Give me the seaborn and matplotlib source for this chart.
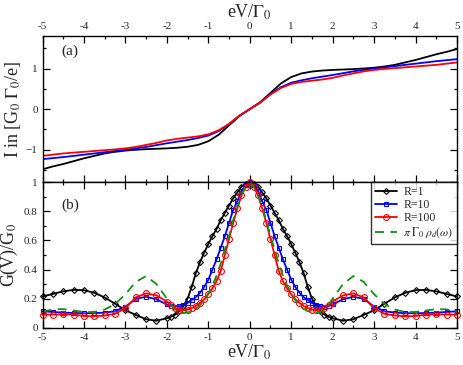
import numpy as np
import pandas as pd
import matplotlib
matplotlib.use("Agg")
import matplotlib.pyplot as plt
from matplotlib.ticker import MultipleLocator
import seaborn as sns

# ---------------- data ----------------
V_top = [-5.0, -4.75, -4.5, -4.25, -4.0, -3.75, -3.5, -3.25, -3.0, -2.75, -2.5, -2.25,
         -2.0, -1.75, -1.5, -1.25, -1.0, -0.75, -0.5, -0.25, 0.0,
         0.25, 0.5, 0.75, 1.0, 1.25, 1.5, 1.75, 2.0, 2.25, 2.5, 2.75, 3.0,
         3.25, 3.5, 3.75, 4.0, 4.25, 4.5, 4.75, 5.0]
I_R1 = [-1.48, -1.41, -1.35, -1.28, -1.21, -1.15, -1.09, -1.05, -1.02, -1.0, -0.985, -0.975,
        -0.965, -0.95, -0.925, -0.88, -0.79, -0.63, -0.40, -0.17, 0.0,
        0.17, 0.40, 0.63, 0.79, 0.88, 0.925, 0.95, 0.965, 0.975, 0.985, 1.0, 1.02,
        1.05, 1.09, 1.15, 1.21, 1.28, 1.35, 1.41, 1.48]
I_R10 = [-1.23, -1.205, -1.18, -1.15, -1.12, -1.09, -1.06, -1.03, -1.0, -0.965, -0.93, -0.885,
         -0.84, -0.80, -0.76, -0.71, -0.65, -0.54, -0.37, -0.16, 0.0,
         0.16, 0.37, 0.54, 0.65, 0.71, 0.76, 0.80, 0.84, 0.885, 0.93, 0.965, 1.0,
         1.03, 1.06, 1.09, 1.12, 1.15, 1.18, 1.205, 1.23]
I_R100 = [-1.15, -1.12, -1.09, -1.07, -1.05, -1.03, -1.01, -0.99, -0.965, -0.93, -0.88, -0.83,
          -0.77, -0.73, -0.70, -0.67, -0.62, -0.52, -0.36, -0.16, 0.0,
          0.16, 0.36, 0.52, 0.62, 0.67, 0.70, 0.73, 0.77, 0.83, 0.88, 0.93, 0.965,
          0.99, 1.01, 1.03, 1.05, 1.07, 1.09, 1.12, 1.15]

V_bot = [-5.0, -4.75, -4.5, -4.25, -4.0, -3.75, -3.5, -3.25, -3.0, -2.75, -2.5, -2.25,
         -2.0, -1.9, -1.8, -1.7, -1.6, -1.5, -1.4, -1.3, -1.2, -1.1, -1.0, -0.9, -0.8,
         -0.7, -0.6, -0.5, -0.4, -0.3, -0.2, -0.1,
         0.0,
         0.1, 0.2, 0.3, 0.4, 0.5, 0.6, 0.7, 0.8, 0.9, 1.0, 1.1, 1.2, 1.3, 1.4, 1.5,
         1.6, 1.7, 1.8, 1.9, 2.0,
         2.25, 2.5, 2.75, 3.0, 3.25, 3.5, 3.75, 4.0, 4.25, 4.5, 4.75, 5.0]
G_R1 = [0.215, 0.232, 0.25, 0.26, 0.258, 0.24, 0.208, 0.165, 0.12, 0.088, 0.058, 0.048,
        0.065, 0.075, 0.09, 0.115, 0.15, 0.20, 0.28, 0.375, 0.45, 0.515, 0.575, 0.63, 0.68,
        0.74, 0.79, 0.84, 0.89, 0.93, 0.97, 0.99,
        1.00,
        0.99, 0.97, 0.93, 0.89, 0.84, 0.79, 0.74, 0.68, 0.63, 0.575, 0.515, 0.45, 0.375, 0.28, 0.20,
        0.15, 0.115, 0.09, 0.075, 0.065,
        0.048, 0.058, 0.088, 0.12, 0.165, 0.208, 0.24, 0.258, 0.26, 0.25, 0.232, 0.215]
G_R10 = [0.113, 0.108, 0.104, 0.101, 0.099, 0.10, 0.104, 0.113, 0.145, 0.198, 0.213, 0.195,
         0.16, 0.15, 0.145, 0.148, 0.155, 0.17, 0.19, 0.21, 0.24, 0.28, 0.33, 0.40, 0.47,
         0.55, 0.63, 0.72, 0.81, 0.87, 0.94, 0.98,
         1.00,
         0.98, 0.94, 0.87, 0.81, 0.72, 0.63, 0.55, 0.47, 0.40, 0.33, 0.28, 0.24, 0.21, 0.19, 0.17,
         0.155, 0.148, 0.145, 0.15, 0.16,
         0.195, 0.213, 0.198, 0.145, 0.113, 0.104, 0.10, 0.099, 0.101, 0.104, 0.108, 0.113]
G_R100 = [0.09, 0.09, 0.092, 0.09, 0.08, 0.078, 0.084, 0.095, 0.135, 0.208, 0.236, 0.222,
          0.18, 0.155, 0.133, 0.125, 0.12, 0.125, 0.135, 0.15, 0.17, 0.195, 0.23, 0.27, 0.32,
          0.39, 0.50, 0.61, 0.72, 0.82, 0.91, 0.97,
          1.00,
          0.97, 0.91, 0.82, 0.72, 0.61, 0.50, 0.39, 0.32, 0.27, 0.23, 0.195, 0.17, 0.15, 0.135, 0.125,
          0.12, 0.125, 0.133, 0.155, 0.18,
          0.222, 0.236, 0.208, 0.135, 0.095, 0.084, 0.078, 0.08, 0.09, 0.092, 0.09, 0.09]
G_dos = [0.11, 0.126, 0.128, 0.118, 0.108, 0.108, 0.125, 0.162, 0.23, 0.315, 0.355, 0.30,
         0.20, 0.16, 0.125, 0.108, 0.102, 0.105, 0.115, 0.13, 0.155, 0.19, 0.235, 0.29, 0.36,
         0.44, 0.54, 0.63, 0.74, 0.83, 0.91, 0.97,
         1.00,
         0.97, 0.91, 0.83, 0.74, 0.63, 0.54, 0.44, 0.36, 0.29, 0.235, 0.19, 0.155, 0.13, 0.115, 0.105,
         0.102, 0.108, 0.125, 0.16, 0.20,
         0.30, 0.355, 0.315, 0.23, 0.162, 0.125, 0.108, 0.108, 0.118, 0.128, 0.126, 0.11]

labels = ["R=1", "R=10", "R=100", r"$\pi\;\Gamma_0\;\rho_d(\omega)$"]
colors = ["black", "#0000ff", "#ff0000", "#1a8c1a"]

# ---------------- style ----------------
sns.set_style("ticks")
plt.rcParams["font.family"] = ["Liberation Serif", "DejaVu Serif"]
plt.rcParams["mathtext.fontset"] = "stix"

fig = plt.figure(figsize=(4.63, 3.65), dpi=100)
L, R = 42.5 / 463, 457 / 463
ax1 = fig.add_axes([L, 1 - 182.3 / 365, R - L, (182.3 - 36) / 365])
ax2 = fig.add_axes([L, 1 - 327.7 / 365, R - L, (327.7 - 182.3) / 365])

top = pd.DataFrame({"V": V_top, "R1": I_R1, "R10": I_R10, "R100": I_R100})
bot = pd.DataFrame({"V": V_bot, "R1": G_R1, "R10": G_R10, "R100": G_R100, "dos": G_dos})

lw = 1.3
for col, c in zip(["R1", "R10", "R100"], colors[:3]):
    sns.lineplot(data=top, x="V", y=col, ax=ax1, color=c, lw=lw, sort=False)

mk = [("R1", "D", 3.0), ("R10", "s", 3.2), ("R100", "o", 4.2)]
for (col, m, ms), c, lab in zip(mk, colors[:3], labels[:3]):
    sns.lineplot(data=bot, x="V", y=col, ax=ax2, color=c, lw=lw, sort=False,
                 marker=m, markersize=ms, markerfacecolor="none", markeredgecolor=c,
                 markeredgewidth=0.8, label=lab, clip_on=False)
sns.lineplot(data=bot, x="V", y="dos", ax=ax2, color=colors[3], lw=lw, sort=False,
             dashes=False, linestyle=(0, (5, 3.5)), label=labels[3])

for ax in (ax1, ax2):
    ax.set_xlim(-5, 5)
    ax.xaxis.set_major_locator(MultipleLocator(1))
    ax.xaxis.set_minor_locator(MultipleLocator(0.5))
    ax.tick_params(which="both", direction="in", top=True, right=True, labelsize=8,
                   width=0.9, color="black")
    ax.tick_params(which="major", length=5)
    ax.tick_params(which="minor", length=2.5)
    for s in ax.spines.values():
        s.set_linewidth(1.0)
        s.set_color("black")

ax1.set_ylim(-1.8, 1.8)
ax1.yaxis.set_major_locator(MultipleLocator(1))
ax1.yaxis.set_minor_locator(MultipleLocator(0.5))
ax1.tick_params(labelbottom=False, labeltop=True)
ax1.xaxis.set_label_position("top")
ax1.set_xticks(range(-5, 6))
ax1.set_xticklabels([str(i) for i in range(-5, 6)])
ax1.set_xlabel(r"eV/$\Gamma_0$", fontsize=13, labelpad=3)
ax1.set_ylabel(r"I in [G$_0$ $\Gamma_0$/e]", fontsize=13, labelpad=2)
ax1.text(-4.55, 1.43, "(a)", fontsize=11, va="center")

ax2.set_ylim(0, 1)
ax2.yaxis.set_minor_locator(MultipleLocator(0.1))
ax2.set_yticks([0, 0.2, 0.4, 0.6, 0.8, 1.0])
ax2.set_yticklabels(["0", "0.2", "0.4", "0.6", "0.8", "1"])
ax2.set_xticks(range(-5, 6))
ax2.set_xticklabels([str(i) for i in range(-5, 6)])
ax2.set_xlabel(r"eV/$\Gamma_0$", fontsize=13, labelpad=1)
ax2.set_ylabel(r"G(V)/G$_0$", fontsize=13, labelpad=3)
ax2.text(-4.55, 0.84, "(b)", fontsize=11, va="center")

leg = ax2.legend(loc="upper right", fontsize=8.5, frameon=True, fancybox=False,
                 borderaxespad=0.0, handlelength=1.9, handletextpad=0.5,
                 labelspacing=0.1, borderpad=0.3)
leg.get_frame().set_edgecolor("black")
leg.get_frame().set_linewidth(1.0)

fig.savefig("out.png", dpi=100)
